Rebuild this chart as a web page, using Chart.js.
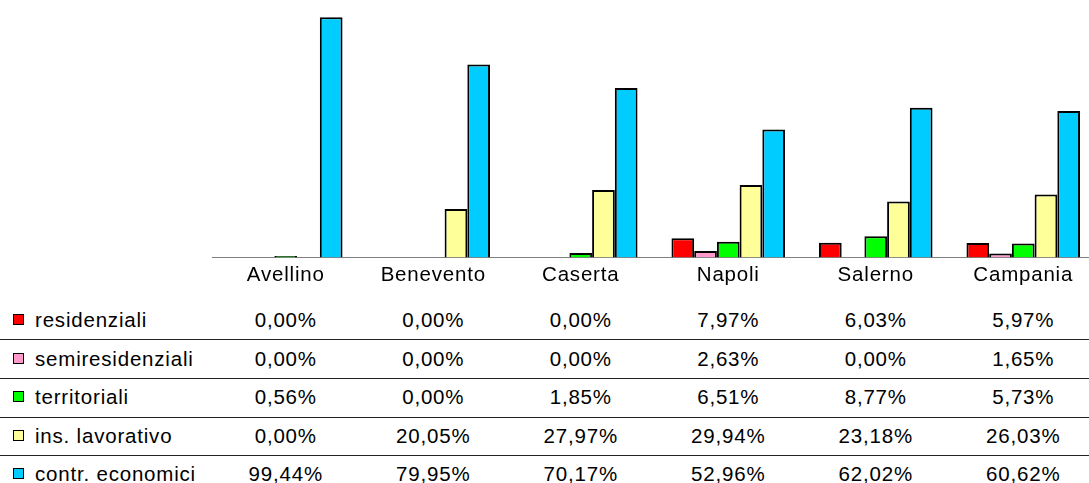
<!DOCTYPE html>
<html>
<head>
<meta charset="utf-8">
<script src="https://cdn.jsdelivr.net/npm/chart.js@4/dist/chart.umd.min.js"></script>
<style>
  html, body { margin: 0; padding: 0; background: #fff; overflow: hidden; width: 1089px; height: 483px; }
  #wrap { position: relative; width: 1089px; height: 483px; overflow: hidden; font-family: "Liberation Sans", Arial, sans-serif; color: #000; }
  #c { position: absolute; left: 0; top: 0; }
  .cell { position: absolute; font-size: 20.5px; letter-spacing: 0.8px; line-height: 22px; height: 22px; white-space: nowrap; }
  .val { transform: translateX(-50%); }
  .hline { position: absolute; left: 0; width: 1089px; height: 1px; background: #222; }
  .sw { position: absolute; width: 9px; height: 9px; border: 1.5px solid #000; }
</style>
</head>
<body>
<div id="wrap">
  <canvas id="c" width="1097" height="300"></canvas>
</div>
<script>
const categories = ["Avellino", "Benevento", "Caserta", "Napoli", "Salerno", "Campania"];
const seriesNames = ["residenziali", "semiresidenziali", "territoriali", "ins. lavorativo", "contr. economici"];
const residenziali     = [0.00, 0.00, 0.00, 7.97, 6.03, 5.97];
const semiresidenziali = [0.00, 0.00, 0.00, 2.63, 0.00, 1.65];
const territoriali     = [0.56, 0.00, 1.85, 6.51, 8.77, 5.73];
const insLavorativo    = [0.00, 20.05, 27.97, 29.94, 23.18, 26.03];
const contrEconomici   = [99.44, 79.95, 70.17, 52.96, 62.02, 60.62];
const seriesValues = [residenziali, semiresidenziali, territoriali, insLavorativo, contrEconomici];
const seriesColors = ["#FF0000", "#FF99CC", "#00FF00", "#FFFF99", "#00CCFF"];

const spacingPlugin = {
  id: 'spacing',
  beforeDraw(chart) { chart.ctx.letterSpacing = '0.8px'; }
};

const chart = new Chart(document.getElementById('c'), {
  type: 'bar',
  data: {
    labels: categories,
    datasets: seriesValues.map((vals, i) => ({
      label: seriesNames[i],
      data: vals.map(v => v === 0 ? null : v),
      backgroundColor: seriesColors[i],
      borderColor: '#000',
      borderWidth: 2,
      borderSkipped: 'bottom',
      categoryPercentage: 0.77,
      barPercentage: 1.0
    }))
  },
  options: {
    responsive: false,
    animation: false,
    layout: { padding: { left: 212, right: 0, top: 16, bottom: 6 } },
    plugins: { legend: { display: false }, tooltip: { enabled: false } },
    scales: {
      x: {
        grid: { display: false, drawTicks: false },
        border: { display: true, color: '#808080', width: 1 },
        ticks: { color: '#000', padding: 6, font: { family: 'Liberation Sans', size: 20.5 } }
      },
      y: {
        display: false,
        min: 0, max: 100
      }
    }
  },
  plugins: [spacingPlugin]
});

// data table below the chart
const wrap = document.getElementById('wrap');
const rowCenters = [320, 358.5, 397, 435.5, 474];
const lineTops = [339, 378, 417, 455];
lineTops.forEach(t => {
  const d = document.createElement('div');
  d.className = 'hline';
  d.style.top = t + 'px';
  wrap.appendChild(d);
});
const fmt = v => v.toFixed(2).replace('.', ',') + '%';
seriesNames.forEach((name, r) => {
  const yc = rowCenters[r];
  const sw = document.createElement('div');
  sw.className = 'sw';
  sw.style.left = '13px';
  sw.style.top = (yc - 6) + 'px';
  sw.style.background = seriesColors[r];
  wrap.appendChild(sw);
  const lab = document.createElement('div');
  lab.className = 'cell';
  lab.style.left = '35px';
  lab.style.top = (yc - 11) + 'px';
  lab.textContent = name;
  wrap.appendChild(lab);
  seriesValues[r].forEach((v, i) => {
    const c = document.createElement('div');
    c.className = 'cell val';
    c.style.left = chart.scales.x.getPixelForValue(i) + 'px';
    c.style.top = (yc - 11) + 'px';
    c.textContent = fmt(v);
    wrap.appendChild(c);
  });
});
</script>
</body>
</html>
